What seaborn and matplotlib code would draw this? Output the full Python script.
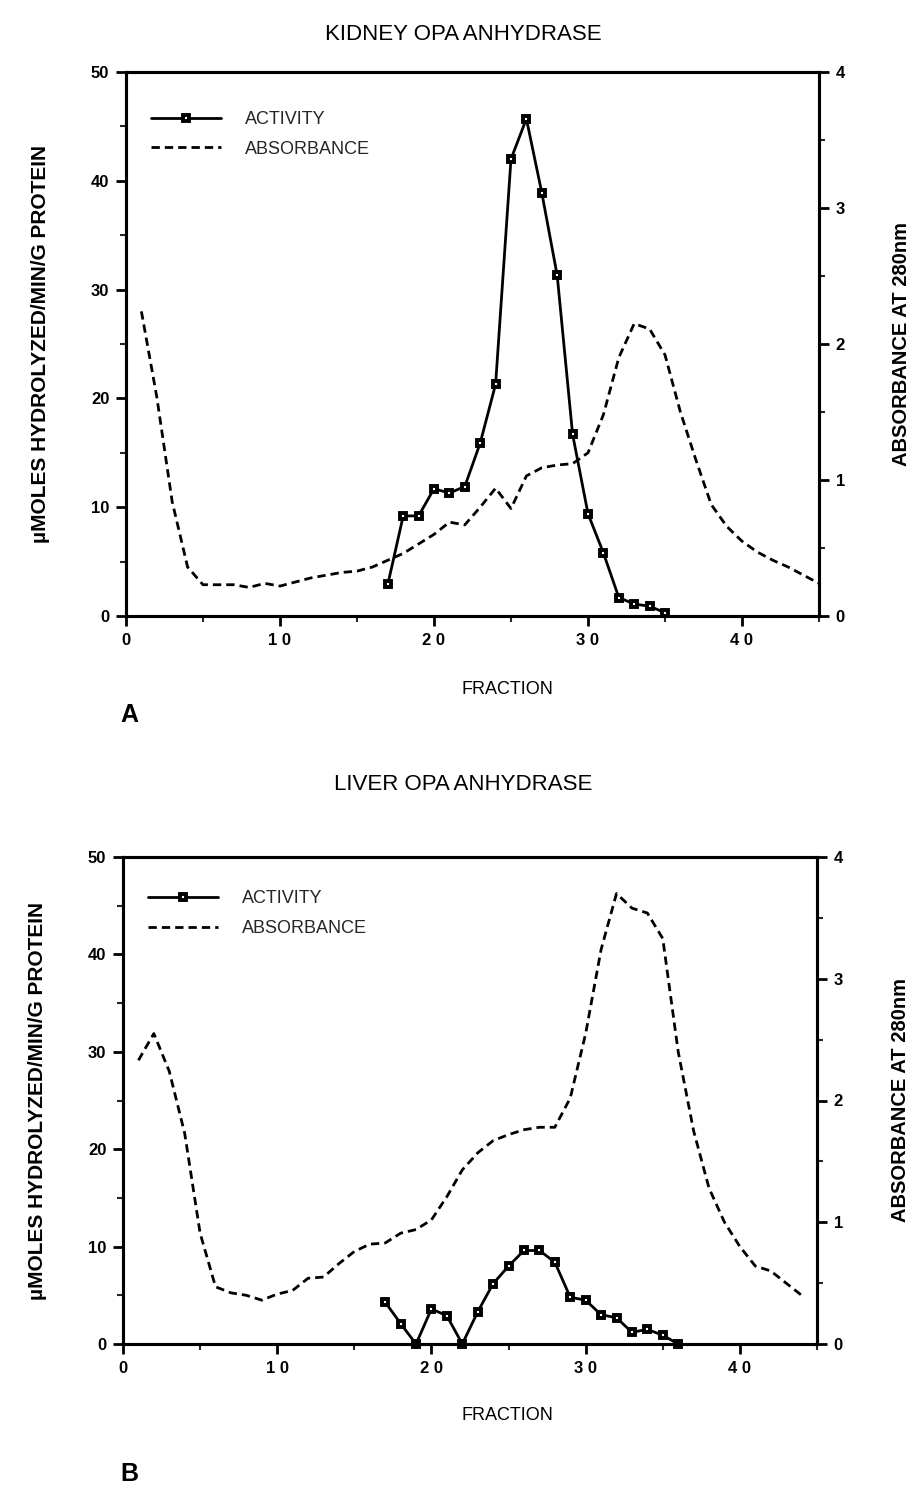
import matplotlib
matplotlib.use("Agg")
import matplotlib.pyplot as plt
import seaborn as sns
from matplotlib.ticker import MultipleLocator, FixedLocator

sns.set_theme(style="ticks")
plt.rcParams['font.family'] = ['Liberation Sans', 'DejaVu Sans']

# ---------------- data ----------------
kidney_act_fraction = list(range(17, 36))
kidney_activity = [2.9, 9.2, 9.2, 11.7, 11.3, 11.9, 15.9, 21.3, 42.0, 45.7,
                   38.9, 31.3, 16.7, 9.4, 5.8, 1.7, 1.1, 0.9, 0.3]
kidney_abs_fraction = list(range(1, 46))
kidney_absorbance = [2.24, 1.61, 0.84, 0.36, 0.23, 0.23, 0.23, 0.21, 0.24, 0.22,
                     0.25, 0.28, 0.30, 0.32, 0.33, 0.36, 0.41, 0.46, 0.53, 0.60,
                     0.69, 0.67, 0.80, 0.94, 0.79, 1.03, 1.09, 1.11, 1.12, 1.20,
                     1.48, 1.90, 2.15, 2.11, 1.92, 1.50, 1.15, 0.82, 0.66, 0.55,
                     0.47, 0.41, 0.36, 0.30, 0.24]

liver_act_fraction = list(range(17, 37))
liver_activity = [4.3, 2.1, 0.0, 3.6, 2.9, 0.0, 3.3, 6.2, 8.0, 9.6,
                  9.6, 8.4, 4.8, 4.5, 3.0, 2.7, 1.2, 1.5, 0.9, 0.0]
liver_abs_fraction = list(range(1, 45))
liver_absorbance = [2.33, 2.55, 2.24, 1.73, 0.91, 0.47, 0.42, 0.40, 0.36, 0.41,
                    0.44, 0.54, 0.55, 0.66, 0.76, 0.82, 0.83, 0.91, 0.94, 1.02,
                    1.21, 1.43, 1.57, 1.67, 1.72, 1.76, 1.78, 1.78, 2.02, 2.55,
                    3.24, 3.70, 3.58, 3.54, 3.33, 2.40, 1.75, 1.28, 1.00, 0.80,
                    0.64, 0.60, 0.50, 0.40]

x_ticks = [0, 10, 20, 30, 40]
x_tick_labels = ["0", "1 0", "2 0", "3 0", "4 0"]
left_ticks = [0, 10, 20, 30, 40, 50]
right_ticks = [0, 1, 2, 3, 4]
legend_labels = ["ACTIVITY", "ABSORBANCE"]

W, H = 917, 1504
fig = plt.figure(figsize=(W / 100, H / 100), dpi=100)


def px_rect(left, top, right, bottom):
    return [left / W, 1 - bottom / H, (right - left) / W, (bottom - top) / H]


def panel(rect, title, title_y, frac_y, letter, letter_y, leg_anchor,
          act_x, act_y, abs_x, abs_y):
    ax = fig.add_axes(rect)
    ax2 = ax.twinx()
    ax.set_zorder(2)
    ax.patch.set_visible(False)

    sns.lineplot(x=abs_x, y=abs_y, ax=ax2, color="black", lw=2.0,
                 linestyle=(0, (3.0, 1.8)), legend=False)
    sns.lineplot(x=act_x, y=act_y, ax=ax, color="black", lw=2.0,
                 marker="s", markersize=5, markerfacecolor="white",
                 markeredgecolor="black", markeredgewidth=2.8,
                 legend=False, clip_on=False)

    ax.set_xlim(0, 45)
    ax.set_ylim(0, 50)
    ax2.set_ylim(0, 4)
    ax.xaxis.set_major_locator(FixedLocator(x_ticks))
    ax.set_xticklabels(x_tick_labels)
    ax.xaxis.set_minor_locator(MultipleLocator(5))
    ax.yaxis.set_major_locator(FixedLocator(left_ticks))
    ax.yaxis.set_minor_locator(MultipleLocator(5))
    ax2.yaxis.set_major_locator(FixedLocator(right_ticks))
    ax2.yaxis.set_minor_locator(MultipleLocator(0.5))

    for a in (ax, ax2):
        for s in a.spines.values():
            s.set_linewidth(2.2)
            s.set_color("black")
            s.set_visible(True)
        a.tick_params(which="major", length=7, width=2, direction="out",
                      labelsize=12, colors="black", pad=5)
        a.tick_params(which="minor", length=4, width=1.5, direction="out")
        a.set_xlabel("")
        a.set_ylabel("")
    for lab in ax.get_xticklabels() + ax.get_yticklabels() + ax2.get_yticklabels():
        lab.set_fontweight("bold")

    ax.set_ylabel("µMOLES HYDROLYZED/MIN/G PROTEIN", fontsize=15,
                  fontweight="bold", color="black")
    ax.yaxis.set_label_coords(-0.11, 0.5)
    ax2.set_ylabel("ABSORBANCE AT 280nm", fontsize=14.5, fontweight="bold",
                   color="black", rotation=90)
    ax2.yaxis.set_label_coords(1.106, 0.5)

    handles = [ax.lines[0], ax2.lines[0]]
    leg = ax.legend(handles, legend_labels, loc="upper left",
                    bbox_to_anchor=(0.012, leg_anchor), frameon=False,
                    handlelength=3.9, handletextpad=1.35, fontsize=13,
                    labelspacing=0.7)
    leg.set_zorder(5)

    fig.text(0.505, 1 - title_y / H, title, ha="center", va="center",
             fontsize=16, color="black")
    fig.text(0.553, 1 - frac_y / H, "FRACTION", ha="center", va="center",
             fontsize=13, color="black")
    fig.text(120 / W, 1 - letter_y / H, letter, ha="left", va="center",
             fontsize=18, fontweight="bold", color="black")
    return ax, ax2


panel(px_rect(126, 72, 819, 616), "KIDNEY OPA ANHYDRASE", 35, 690, "A", 715,
      0.958,
      kidney_act_fraction, kidney_activity, kidney_abs_fraction, kidney_absorbance)
panel(px_rect(123, 857, 817, 1344), "LIVER OPA ANHYDRASE", 785, 1416, "B", 1474,
      0.965,
      liver_act_fraction, liver_activity, liver_abs_fraction, liver_absorbance)

fig.savefig("out.png", dpi=100, facecolor="white")
